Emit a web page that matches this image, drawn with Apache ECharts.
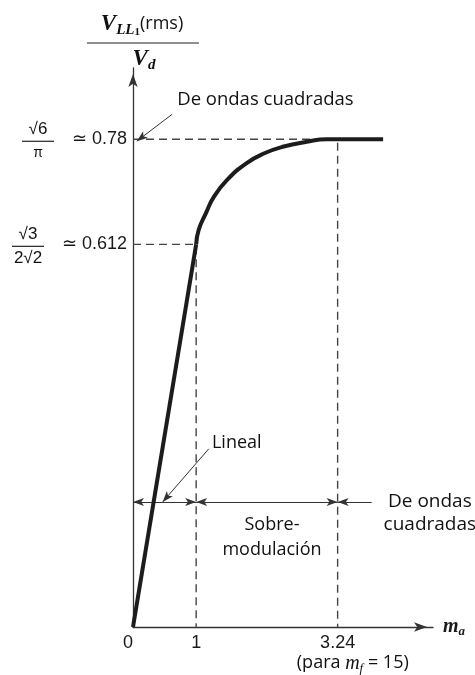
<!DOCTYPE html>
<html>
<head>
<meta charset="utf-8">
<title>V_LL1(rms)/Vd frente a m_a</title>
<style>html,body{margin:0;padding:0;background:#fff;}</style>
</head>
<body>
<div id="main" style="width: 475px;height:675px;"></div>
<script src="https://cdn.jsdelivr.net/npm/echarts@6/dist/echarts.min.js"></script>
<script>
    // valores
    var linealX = [0, 1];
    var linealY = [0, 0.612];
    var curvaX = [1, 1.04, 1.155, 1.28, 1.49, 1.8, 2.09, 2.37, 2.75, 3.07, 3.96];
    var curvaY = [0.612, 0.635, 0.662, 0.688, 0.715, 0.742, 0.758, 0.768, 0.776, 0.78, 0.78];

    var refX = [1, 3.24];      // lineas verticales a trazos
    var refY = [0.612, 0.78];  // lineas horizontales a trazos
    var bandaY = 0.2;
    var bandaFin = 3.78;

    var xTicks = [0, 1, 3.24];
    var xTickLabels = ['0', '1', '3.24'];
    var yTicks = [0.612, 0.78];
    var yTickLabels = ['≃ 0.612', '≃ 0.78'];
    var yFracNum = ['√3', '√6'];
    var yFracDen = ['2√2', 'π'];

    var TXT = 'Open Sans';
    var NUM = 'Liberation Sans';
    var MATH = 'Liberation Serif';

    function pares(xs, ys) {
        return xs.map(function (x, i) { return [x, ys[i]]; });
    }
    function extremo(c, flecha) {
        return {coord: c, symbol: flecha ? 'arrow' : 'none', symbolSize: [6, 11]};
    }

    var myChart = echarts.init(document.getElementById('main'));
    var guia = {color: '#444', width: 1.4, type: [8, 5]};

    option = {
        animation: false,
        backgroundColor: '#fff',
        grid: {left: 133, right: 42, top: 68, bottom: 48, containLabel: false, outerBoundsMode: 'none'},
        xAxis: {
            type: 'value', min: 0, max: 4.75,
            name: '{m|m}{s|a}', nameLocation: 'end', nameGap: 10,
            nameTextStyle: {
                rich: {
                    m: {fontFamily: MATH, fontStyle: 'italic', fontWeight: 'bold', fontSize: 20, lineHeight: 22, verticalAlign: 'middle', color: '#1a1a1a'},
                    s: {fontFamily: MATH, fontStyle: 'italic', fontWeight: 'bold', fontSize: 13, lineHeight: 12, verticalAlign: 'bottom', color: '#1a1a1a'}
                }
            },
            axisLine: {lineStyle: {color: '#333', width: 1.3}, symbol: ['none', 'arrow'], symbolSize: [7, 13], symbolOffset: [0, -6]},
            axisTick: {show: false},
            splitLine: {show: false},
            axisLabel: {
                customValues: xTicks,
                formatter: function (v) { return xTickLabels[xTicks.indexOf(v)]; },
                fontFamily: NUM, fontSize: 18, color: '#1a1a1a', margin: 7,
                alignMinLabel: 'right'
            }
        },
        yAxis: {
            type: 'value', min: 0, max: 0.894,
            axisLine: {lineStyle: {color: '#333', width: 1.3}, symbol: ['none', 'arrow'], symbolSize: [7, 13], symbolOffset: [0, -6]},
            axisTick: {show: false},
            splitLine: {show: false},
            axisLabel: {
                customValues: yTicks,
                formatter: function (v) { return yTickLabels[yTicks.indexOf(v)]; },
                fontFamily: NUM, fontSize: 18, color: '#1a1a1a', margin: 6
            }
        },
        series: [{
            name: 'guia1', type: 'line', silent: true, showSymbol: false, z: 2,
            data: [[0, refY[0]], [refX[0], refY[0]], [refX[0], 0]],
            lineStyle: guia
        }, {
            name: 'guia2', type: 'line', silent: true, showSymbol: false, z: 2,
            data: [[0, refY[1]], [refX[1], refY[1]], [refX[1], 0]],
            lineStyle: guia
        }, {
            name: 'lineal', type: 'line', silent: true, showSymbol: false, z: 5,
            data: pares(linealX, linealY),
            lineStyle: {color: '#1c1c1c', width: 4}
        }, {
            name: 'curva', type: 'line', silent: true, showSymbol: false, z: 5,
            smooth: 0.5,
            data: pares(curvaX, curvaY),
            lineStyle: {color: '#1c1c1c', width: 4},
            markLine: {
                silent: true, animation: false,
                label: {show: false},
                lineStyle: {color: '#333', width: 1, type: 'solid'},
                emphasis: {disabled: true},
                data: [
                    [extremo([0, bandaY], true), extremo([refX[0], bandaY], true)],
                    [extremo([refX[0], bandaY], true), extremo([refX[1], bandaY], true)],
                    [extremo([refX[1], bandaY], true), extremo([bandaFin, bandaY], false)],
                    [extremo([1.2, 0.285], false), extremo([0.47, bandaY], true)],
                    [extremo([0.62, 0.82], false), extremo([0.06, 0.777], true)]
                ]
            }
        }]
    };
    myChart.setOption(option);

    // textos y fracciones
    function px(p) { return myChart.convertToPixel({gridIndex: 0}, p); }
    function texto(p, t, align, extra) {
        var s = {text: t, x: p[0], y: p[1], align: align, verticalAlign: 'middle',
                 fill: '#111', fontFamily: TXT, fontSize: 18};
        for (var k in extra) { s[k] = extra[k]; }
        return {type: 'text', silent: true, style: s};
    }
    function raya(x1, x2, y) {
        return {type: 'line', silent: true, shape: {x1: x1, y1: y, x2: x2, y2: y},
                style: {stroke: '#222', lineWidth: 1.2}};
    }

    var graficos = [];
    var fracCx = [28, 38];
    yTicks.forEach(function (v, i) {
        var y = px([0, v])[1];
        graficos.push(texto([fracCx[i], y - 10], yFracNum[i], 'center', {fontFamily: NUM, fontSize: 17}));
        graficos.push(raya(fracCx[i] - 16, fracCx[i] + 16, y + 2));
        graficos.push(texto([fracCx[i], y + 14], yFracDen[i], 'center', {fontFamily: NUM, fontSize: i === 1 ? 14 : 17}));
    });

    var ricoV = {
        v: {fontFamily: MATH, fontStyle: 'italic', fontWeight: 'bold', fontSize: 23, lineHeight: 28, verticalAlign: 'middle', fill: '#111'},
        s: {fontFamily: MATH, fontStyle: 'italic', fontWeight: 'bold', fontSize: 15, lineHeight: 14, verticalAlign: 'bottom', fill: '#111'},
        t: {fontFamily: MATH, fontWeight: 'bold', fontSize: 11, lineHeight: 8, verticalAlign: 'bottom', fill: '#111'},
        r: {fontFamily: TXT, fontSize: 18, lineHeight: 28, verticalAlign: 'middle', fill: '#111'}
    };
    graficos.push(texto([142, 24], '{v|V}{s|LL}{t|1}{r|(rms)}', 'center', {rich: ricoV}));
    graficos.push(raya(87, 199, 43));
    graficos.push(texto([144, 59], '{v|V}{s|d}', 'center', {rich: ricoV}));

    graficos.push(texto(px([0.7, 0.843]), 'De ondas cuadradas', 'left', {fontSize: 18.5}));
    graficos.push(texto(px([1.25, 0.294]), 'Lineal', 'left'));
    graficos.push(texto(px([2.2, 0.144]), 'Sobre-\nmodulación', 'center', {lineHeight: 25}));
    graficos.push(texto(px([4.7, 0.182]), 'De ondas\ncuadradas', 'center', {lineHeight: 23, fontSize: 19}));

    var ricoP = {
        a: {fontFamily: TXT, fontSize: 18, lineHeight: 24, verticalAlign: 'middle', fill: '#111'},
        m: {fontFamily: MATH, fontStyle: 'italic', fontSize: 20, lineHeight: 24, verticalAlign: 'middle', fill: '#111'},
        f: {fontFamily: MATH, fontStyle: 'italic', fontSize: 13, lineHeight: 10, verticalAlign: 'bottom', fill: '#111'}
    };
    graficos.push(texto(px([3.48, -0.058]), '{a|(para }{m|m}{f|f}{a| = 15)}', 'center', {rich: ricoP}));

    myChart.setOption({graphic: graficos});
</script>
</body>
</html>
